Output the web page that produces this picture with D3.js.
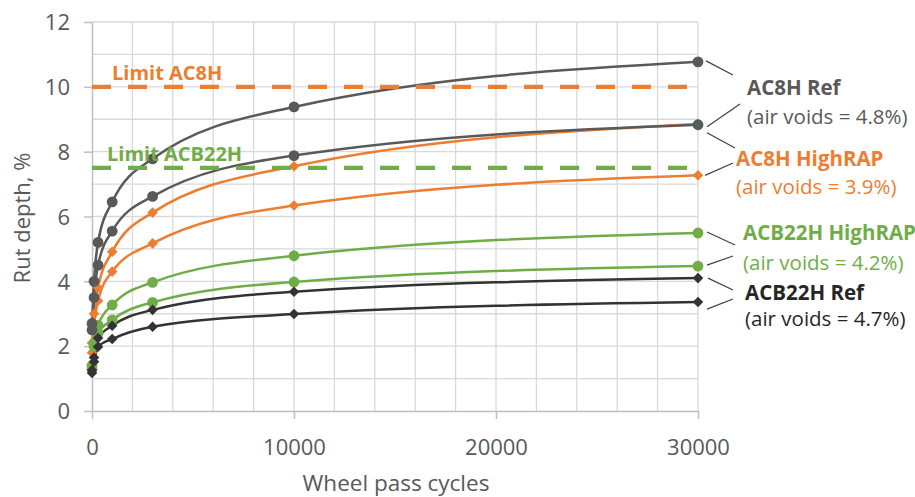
<!DOCTYPE html>
<html>
<head>
<meta charset="utf-8">
<script src="https://cdn.jsdelivr.net/npm/d3@7"></script>
<style>
  html, body { margin: 0; padding: 0; background: #fff; }
  svg { display: block; font-family: "Open Sans", sans-serif; }
</style>
</head>
<body>
<svg id="chart" width="915" height="497"></svg>
<script>
// Wheel pass cycles at which rut depth was recorded
const cycles = [0, 100, 300, 1000, 3000, 10000, 30000];

// Rut depth (%) per specimen
const ac8hRefA      = [2.70, 4.00, 5.20, 6.45, 7.78, 9.38, 10.77];
const ac8hRefB      = [2.50, 3.50, 4.50, 5.55, 6.62, 7.88, 8.83];
const ac8hRapA      = [2.10, 3.00, 3.80, 4.91, 6.12, 7.55, 8.85];
const ac8hRapB      = [1.80, 2.60, 3.40, 4.30, 5.17, 6.34, 7.27];
const acb22hRapA    = [1.40, 2.10, 2.65, 3.27, 3.97, 4.79, 5.49];
const acb22hRapB    = [1.30, 2.00, 2.40, 2.81, 3.35, 3.98, 4.47];
const acb22hRefA    = [1.26, 1.65, 2.25, 2.63, 3.12, 3.68, 4.10];
const acb22hRefB    = [1.17, 1.52, 1.98, 2.22, 2.60, 2.99, 3.36];

// Limits
const limitNames  = ["Limit AC8H", "Limit ACB22H"];
const limitValues = [10, 7.5];

// Axis ticks
const xTicks = [0, 10000, 20000, 30000];
const yTicks = [0, 2, 4, 6, 8, 10, 12];

// Mix labels
const mixNames  = ["AC8H Ref", "AC8H HighRAP", "ACB22H HighRAP", "ACB22H Ref"];
const mixVoids  = ["(air voids = 4.8%)", "(air voids = 3.9%)", "(air voids = 4.2%)", "(air voids = 4.7%)"];

const COL = { ac8hRef: "#595959", ac8hRap: "#ED7D31", acb22hRap: "#70AD47", acb22hRef: "#333333" };

const series = [
  { values: ac8hRapA,   color: COL.ac8hRap,   marker: "diamond" },
  { values: ac8hRapB,   color: COL.ac8hRap,   marker: "diamond" },
  { values: acb22hRapA, color: COL.acb22hRap, marker: "circle" },
  { values: acb22hRapB, color: COL.acb22hRap, marker: "circle" },
  { values: acb22hRefA, color: COL.acb22hRef, marker: "diamond" },
  { values: acb22hRefB, color: COL.acb22hRef, marker: "diamond" },
  { values: ac8hRefA,   color: COL.ac8hRef,   marker: "circle" },
  { values: ac8hRefB,   color: COL.ac8hRef,   marker: "circle" }
];

const svg = d3.select("#chart");
const x = d3.scaleLinear().domain([0, 30000]).range([92, 698]);
const y = d3.scaleLinear().domain([0, 12]).range([411, 22]);

// Gridlines
const grid = svg.append("g");
grid.selectAll("line.h").data(d3.range(1, 13)).join("line")
  .attr("x1", x(0)).attr("x2", x(30000))
  .attr("y1", d => y(d)).attr("y2", d => y(d))
  .attr("stroke", "#d9d9d9").attr("stroke-width", 1.3);
grid.selectAll("line.v").data(d3.range(2000, 30001, 2000)).join("line")
  .attr("x1", d => x(d)).attr("x2", d => x(d))
  .attr("y1", y(0)).attr("y2", y(12))
  .attr("stroke", "#d9d9d9").attr("stroke-width", 1.3);

// Axes
const yAxis = svg.append("g").attr("transform", `translate(${x(0)},0)`)
  .call(d3.axisLeft(y).tickValues(yTicks).tickSize(8).tickSizeOuter(0).tickPadding(14));
const xAxis = svg.append("g").attr("transform", `translate(0,${y(0)})`)
  .call(d3.axisBottom(x).tickValues(xTicks).tickSize(8).tickSizeOuter(0).tickPadding(20).tickFormat(d3.format("d")));
[yAxis, xAxis].forEach(a => {
  a.select(".domain").attr("stroke", "#bfbfbf").attr("stroke-width", 1.5);
  a.selectAll(".tick line").attr("stroke", "#bfbfbf").attr("stroke-width", 1.5);
  a.selectAll(".tick text").attr("fill", "#595959").style("font-size", "22px")
    .style("font-family", "'Open Sans', sans-serif");
});
yAxis.selectAll(".tick text").attr("dy", "0.35em");

// Axis titles
svg.append("text").attr("x", 396).attr("y", 491).attr("text-anchor", "middle")
  .attr("fill", "#595959").style("font-size", "22.5px").text("Wheel pass cycles");
svg.append("text").attr("transform", "translate(30,218) rotate(-90)").attr("text-anchor", "middle")
  .attr("fill", "#595959").style("font-size", "22px").text("Rut depth, %");

// Curves
const line = d3.line().x((d, i) => x(cycles[i])).y(d => y(d)).curve(d3.curveMonotoneX);
const plot = svg.append("g");
series.forEach(s => {
  plot.append("path").datum(s.values).attr("d", line)
    .attr("fill", "none").attr("stroke", s.color).attr("stroke-width", 2.5);
});
series.forEach(s => {
  const isCircle = s.marker === "circle";
  const sym = isCircle ? d3.symbolCircle : d3.symbolSquare;
  const size = isCircle ? 92 : 56;
  plot.selectAll(null).data(s.values).join("path")
    .attr("transform", (d, i) => `translate(${x(cycles[i])},${y(d)})` + (isCircle ? "" : " rotate(45)"))
    .attr("d", d3.symbol(sym, size))
    .attr("fill", s.color);
});

// Limit lines
const limitColors = [COL.ac8hRap, COL.acb22hRap];
limitValues.forEach((v, i) => {
  svg.append("line").attr("x1", x(0)).attr("x2", x(30000))
    .attr("y1", y(v)).attr("y2", y(v))
    .attr("stroke", limitColors[i]).attr("stroke-width", 4.2)
    .attr("stroke-dasharray", "19,17");
});
svg.append("text").attr("x", 112).attr("y", y(limitValues[0]) - 7)
  .attr("fill", limitColors[0]).style("font-size", "20px").style("font-weight", "bold")
  .text(limitNames[0]);
svg.append("text").attr("x", 107).attr("y", y(limitValues[1]) - 7)
  .attr("fill", limitColors[1]).style("font-size", "20px").style("font-weight", "bold")
  .text(limitNames[1]);

// Leader lines from series end points to their labels
const endX = x(30000);
const leaders = [
  [ac8hRefA,   8, -1, 733, 75],
  [ac8hRefB,   9,  2, 740, 104],
  [ac8hRefB,   9,  8, 735, 148],
  [ac8hRapB,   7,  0, 733, 163],
  [acb22hRapA, 9, -1, 735, 245],
  [acb22hRapB, 9, -1, 733, 256],
  [acb22hRefA, 10, 0, 733, 290],
  [acb22hRefB, 9,  7, 733, 299]
];
leaders.forEach(([vals, dx, dy, lx, ly]) => {
  svg.append("line")
    .attr("x1", endX + dx).attr("y1", y(vals[vals.length - 1]) + dy)
    .attr("x2", lx).attr("y2", ly)
    .attr("stroke", "#404040").attr("stroke-width", 1.2);
});

// Mix labels
const labelColors = [COL.ac8hRef, COL.ac8hRap, COL.acb22hRap, "#262626"];
const labelPos = [[747, 95, 747, 124], [736, 166, 736, 194], [743, 240, 743, 270], [745, 300, 745, 326]];
mixNames.forEach((n, i) => {
  const p = labelPos[i];
  svg.append("text").attr("x", p[0]).attr("y", p[1]).attr("fill", labelColors[i])
    .style("font-size", "20.5px").style("font-weight", "bold").text(n);
  svg.append("text").attr("x", p[2]).attr("y", p[3]).attr("fill", labelColors[i])
    .style("font-size", "20.5px").text(mixVoids[i]);
});
</script>
</body>
</html>
